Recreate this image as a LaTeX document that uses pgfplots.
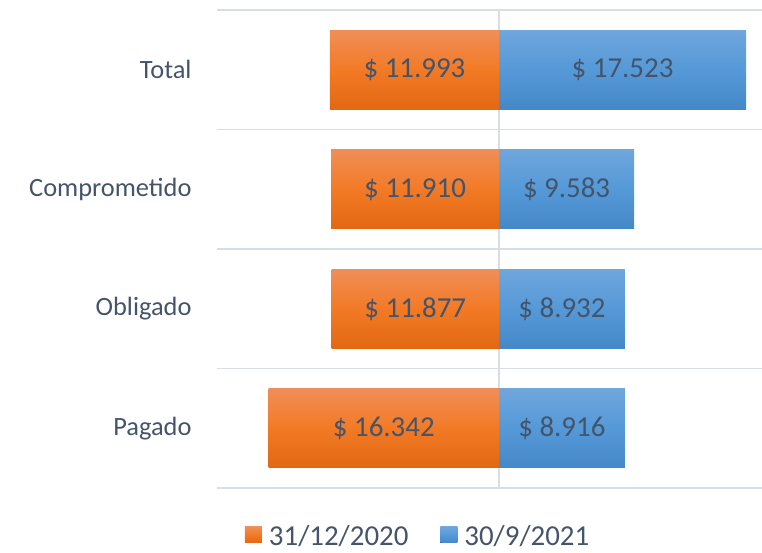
\documentclass[border=0pt]{standalone}
\usepackage{pgfplots}
\pgfplotsset{compat=1.18}
\usepackage{pgfplotstable}
\usepackage{fontspec}
\setmainfont{Carlito}
\definecolor{txt}{RGB}{68,84,106}
\definecolor{gridc}{RGB}{217,222,228}
\definecolor{orT}{RGB}{240,142,88}
\definecolor{orM}{RGB}{243,122,37}
\definecolor{orB}{RGB}{226,104,20}
\definecolor{blT}{RGB}{111,166,220}
\definecolor{blM}{RGB}{85,153,216}
\definecolor{blB}{RGB}{68,136,200}
\pgfplotstableread{
y o b ol bl
3 -11993 17523 11.993 17.523
2 -11910 9583 11.910 9.583
1 -11877 8932 11.877 8.932
0 -16342 8916 16.342 8.916
}\data
\pgfplotsset{
  orbar/.style={xbar, bar shift=0pt, draw=none, top color=orT, bottom color=orB, middle color=orM},
  blbar/.style={xbar, bar shift=0pt, draw=none, top color=blT, bottom color=blB, middle color=blM},
}
\begin{document}
\begin{tikzpicture}
\useasboundingbox (0,0) rectangle (762bp,553bp);
\begin{axis}[
  at={(217bp,65bp)}, anchor=south west, scale only axis,
  width=545bp, height=478bp,
  xmin=-20000, xmax=18650, ymin=-0.5, ymax=3.5,
  axis line style={draw=none},
  scaled x ticks=false,
  xtick={0}, xticklabels={}, xmajorgrids,
  major x grid style={gridc, line width=1.2bp},
  ytick={0,1,2,3}, yticklabels={Pagado,Obligado,Comprometido,Total},
  minor ytick={-0.5,0.5,1.5,2.5,3.5}, yminorgrids,
  minor y grid style={gridc, line width=1.2bp},
  major tick length=0, minor tick length=0,
  yticklabel style={font=\fontsize{26.5}{30}\selectfont, text=txt, anchor=east, xshift=-22bp},
  clip=false,
  bar width=0.66,
  legend style={at={(0.369,-0.100)}, anchor=center, draw=none, fill=none,
    font=\fontsize{29}{34}\selectfont, text=txt, legend columns=2,
    /tikz/every even column/.append style={column sep=30bp}},
  legend image code/.code={\fill[#1] (0bp,-7bp) rectangle (17bp,9bp); \path (0bp,0bp) -- (22bp,0bp);},
]
\addplot[orbar] coordinates {(-11993,3)};
\addlegendentry{31/12/2020}
\addplot[blbar] coordinates {(17523,3)};
\addlegendentry{30/9/2021}
\addplot[orbar, forget plot] coordinates {(-11910,2)};
\addplot[orbar, forget plot] coordinates {(-11877,1)};
\addplot[orbar, forget plot] coordinates {(-16342,0)};
\addplot[blbar, forget plot] coordinates {(9583,2)};
\addplot[blbar, forget plot] coordinates {(8932,1)};
\addplot[blbar, forget plot] coordinates {(8916,0)};
\addplot[forget plot, draw=none, mark=none, nodes near coords={\$ \pgfplotspointmeta},
  point meta=explicit symbolic,
  nodes near coords style={anchor=center, font=\fontsize{29}{34}\selectfont, text=txt}]
  table[x expr=\thisrow{o}/2, y=y, meta=ol] {\data};
\addplot[forget plot, draw=none, mark=none, nodes near coords={\$ \pgfplotspointmeta},
  point meta=explicit symbolic,
  nodes near coords style={anchor=center, font=\fontsize{29}{34}\selectfont, text=txt}]
  table[x expr=\thisrow{b}/2, y=y, meta=bl] {\data};
\end{axis}
\end{tikzpicture}
\end{document}
